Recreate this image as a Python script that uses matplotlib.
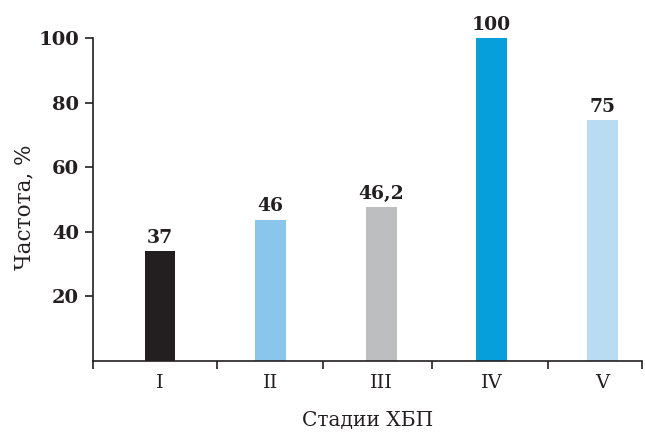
import numpy as np
import matplotlib
matplotlib.use("Agg")
import matplotlib.pyplot as plt

plt.rc('font', family='DejaVu Serif')

stages = ["I", "II", "III", "IV", "V"]
heights = [34.0, 43.8, 47.6, 100.0, 74.5]   # bar heights as drawn
labels = ["37", "46", "46,2", "100", "75"]  # printed values
colors = ["#231F20", "#8AC6EC", "#BCBEC0", "#069EDB", "#BADCF3"]

fig = plt.figure(figsize=(6.45, 4.33), dpi=100)
ax = fig.add_axes([93 / 645, 1 - 361 / 433, (642 - 93) / 645, (361 - 38) / 433])

x = np.arange(len(stages))
ax.bar(x, heights, width=0.28, color=colors, zorder=2)
for xi, h, lb in zip(x, heights, labels):
    ax.annotate(lb, (xi, h), xytext=(0, 3), textcoords='offset points',
                ha='center', va='bottom', fontsize=13.5, fontweight='bold',
                color='#231F20', annotation_clip=False)

ax.set_xlim(-0.606, 4.36)
ax.set_ylim(0, 100)

ax.spines['top'].set_visible(False)
ax.spines['right'].set_visible(False)
for s in ['left', 'bottom']:
    ax.spines[s].set_color('#231F20')
    ax.spines[s].set_linewidth(1.2)

ax.set_yticks([20, 40, 60, 80, 100])
ax.tick_params(axis='y', direction='out', length=6, width=1.2, color='#231F20',
               labelsize=14, pad=4)
for t in ax.get_yticklabels():
    t.set_fontweight('bold')
    t.set_color('#231F20')

ax.set_xticks([-0.606, 0.52, 1.47, 2.46, 3.51, 4.36])
ax.set_xticklabels([])
ax.set_xticks(x, minor=True)
ax.set_xticklabels(stages, minor=True, fontsize=14, color='#231F20')
ax.tick_params(axis='x', which='major', direction='out', length=6, width=1.2,
               color='#231F20')
ax.tick_params(axis='x', which='minor', length=0, pad=9)

ax.set_xlabel("Стадии ХБП", fontsize=14.5, color='#231F20', labelpad=14)
ax.set_ylabel("Частота, %", fontsize=15.5, color='#231F20')
ax.yaxis.set_label_coords(-0.104, 0.475)

fig.savefig("out.png", dpi=100)
